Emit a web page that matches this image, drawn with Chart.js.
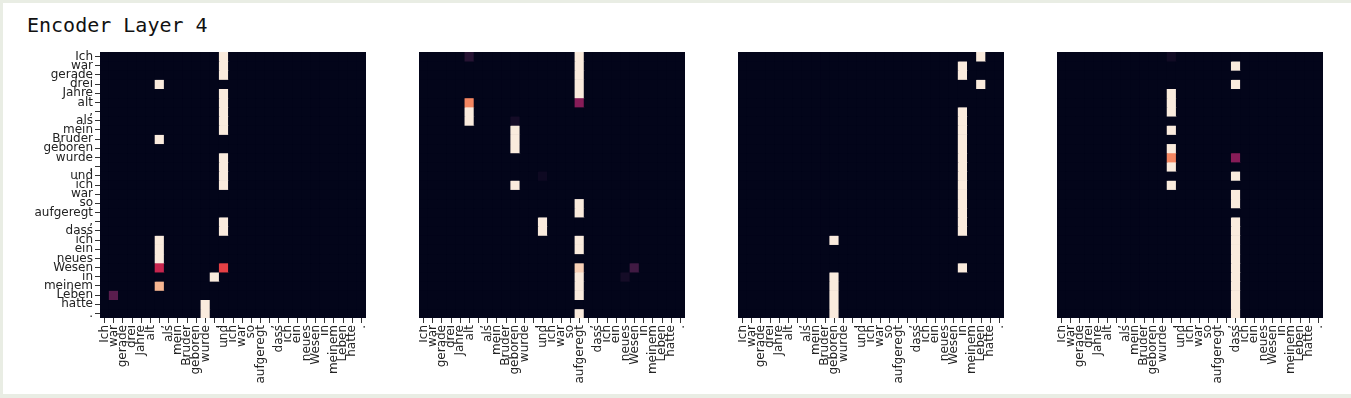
<!DOCTYPE html>
<html lang="de">
<head>
<meta charset="UTF-8">
<title>Encoder Layer 4</title>
<script src="https://cdn.jsdelivr.net/npm/chart.js"></script>
<style>
  body { margin: 0; width: 1351px; height: 398px; background: #e9ede4; position: relative; overflow: hidden; }
  .frame { position: absolute; left: 3px; top: 3px; width: 1348px; height: 391px; background: #fff; }
  h1 {
    position: absolute; left: 27px; top: 15px; margin: 0;
    font: normal 20px/20px 'DejaVu Sans Mono', monospace; color: #111;
  }
  canvas { position: absolute; }
</style>
</head>
<body>
<div class="frame"></div>
<h1>Encoder Layer 4</h1>
<canvas id="h1c" width="350" height="345" style="left:20px;top:50px"></canvas>
<canvas id="h2c" width="270" height="345" style="left:419px;top:50px"></canvas>
<canvas id="h3c" width="270" height="345" style="left:738px;top:50px"></canvas>
<canvas id="h4c" width="270" height="345" style="left:1057px;top:50px"></canvas>

<script>
const tokens = ['Ich', 'war', 'gerade', 'drei', 'Jahre', 'alt', ',', 'als', 'mein', 'Bruder',
  'geboren', 'wurde', ',', 'und', 'ich', 'war', 'so', 'aufgeregt', ',', 'dass',
  'ich', 'ein', 'neues', 'Wesen', 'in', 'meinem', 'Leben', 'hatte', '.'];

// non-zero attention cells per head: [row (query), col (key), weight]
const head1 = [
  [0,13,1],[1,13,1],[2,13,1],[4,13,1],[5,13,1],[6,13,1],[7,13,1],[8,13,1],
  [11,13,1],[12,13,1],[13,13,1],[14,13,1],[18,13,1],[19,13,1],[23,13,0.6],
  [3,6,1],[9,6,1],[20,6,1],[21,6,1],[22,6,1],[23,6,0.5],[25,6,0.86],
  [24,12,1],[27,11,1],[28,11,1],[26,1,0.23]
];
const head2 = [
  [0,5,0.1],[5,5,0.75],[6,5,1],[7,5,1],
  [7,10,0.05],[8,10,1],[9,10,1],[10,10,1],[14,10,1],
  [13,13,0.03],[18,13,1],[19,13,1],
  [0,17,1],[1,17,1],[2,17,1],[3,17,1],[4,17,1],[5,17,0.34],[16,17,1],[17,17,1],
  [20,17,1],[21,17,1],[23,17,0.93],[24,17,1],[25,17,1],[26,17,1],[28,17,1],
  [23,23,0.17],[24,22,0.05]
];
const head3 = [
  [0,26,1],[3,26,1],
  [1,24,1],[2,24,1],[6,24,1],[7,24,1],[8,24,1],[9,24,1],[10,24,1],[11,24,1],[12,24,1],
  [13,24,1],[14,24,1],[15,24,1],[16,24,1],[17,24,1],[18,24,1],[19,24,1],[23,24,1],
  [20,10,1],[24,10,1],[25,10,1],[26,10,1],[27,10,1],[28,10,1]
];
const head4 = [
  [0,12,0.04],[4,12,1],[5,12,1],[6,12,1],[8,12,1],[10,12,1],[11,12,0.75],[12,12,1],[14,12,1],
  [1,19,1],[3,19,1],[11,19,0.34],[13,19,1],[15,19,1],[16,19,1],
  [18,19,1],[19,19,1],[20,19,1],[21,19,1],[22,19,1],[23,19,1],[24,19,1],
  [25,19,1],[26,19,1],[27,19,1],[28,19,1]
];

// seaborn "rocket" colormap stops
const rocket = ['#03051a', '#35193e', '#701f57', '#ad1759', '#e13342', '#f37651', '#f6b48f', '#faebdd'];

function rocketColor(v) {
  const t = Math.max(0, Math.min(1, v)) * (rocket.length - 1);
  const i = Math.min(Math.floor(t), rocket.length - 2);
  const f = t - i;
  const a = rocket[i], b = rocket[i + 1];
  const ch = k => {
    const x = parseInt(a.substr(k, 2), 16), y = parseInt(b.substr(k, 2), 16);
    return Math.round(x + (y - x) * f);
  };
  return `rgb(${ch(1)},${ch(3)},${ch(5)})`;
}

function matrix(cells) {
  const m = tokens.map(() => tokens.map(() => 0));
  cells.forEach(([r, c, v]) => { m[r][c] = v; });
  return m;
}

// dark fill under the cells so no hairline seams show between them
const backdrop = {
  id: 'backdrop',
  beforeDatasetsDraw(chart) {
    const { ctx, chartArea: a } = chart;
    ctx.save();
    ctx.fillStyle = rocket[0];
    ctx.fillRect(a.left, a.top, a.right - a.left, a.bottom - a.top);
    ctx.restore();
  }
};

const tickFont = { family: 'DejaVu Sans', size: 12 };

function drawHead(id, cells, showY) {
  const m = matrix(cells);
  new Chart(document.getElementById(id), {
    type: 'bar',
    data: {
      labels: tokens,
      datasets: m.map((row, r) => ({
        data: row.map(() => [r - 0.5, r + 0.5]),
        backgroundColor: row.map(rocketColor),
        borderWidth: 0,
        grouped: false,
        barPercentage: 1,
        categoryPercentage: 1
      }))
    },
    plugins: [backdrop],
    options: {
      responsive: false,
      animation: false,
      events: [],
      layout: { padding: { top: 2, right: 4, left: 0, bottom: 0 } },
      plugins: { legend: { display: false }, tooltip: { enabled: false } },
      scales: {
        x: {
          grid: { offset: false, drawOnChartArea: false, tickLength: 5, color: '#333', lineWidth: 1 },
          border: { display: false },
          ticks: {
            autoSkip: false, minRotation: 90, maxRotation: 90, padding: 2,
            color: '#222', font: tickFont
          },
          afterFit: s => { s.height = 77; s.paddingLeft = 0; s.paddingRight = 0; }
        },
        y: {
          display: showY,
          reverse: true,
          min: -0.5,
          max: 28.5,
          afterBuildTicks: s => { s.ticks = tokens.map((_, i) => ({ value: i })); },
          grid: { drawOnChartArea: false, tickLength: 5, color: '#333', lineWidth: 1 },
          border: { display: false },
          ticks: {
            autoSkip: false, callback: v => tokens[v], padding: 2,
            color: '#222', font: tickFont
          },
          afterFit: s => {
            if (showY) s.width = 80;
            s.paddingTop = 0; s.paddingBottom = 0;
          }
        }
      }
    }
  });
}

drawHead('h1c', head1, true);
drawHead('h2c', head2, false);
drawHead('h3c', head3, false);
drawHead('h4c', head4, false);
</script>
</body>
</html>
